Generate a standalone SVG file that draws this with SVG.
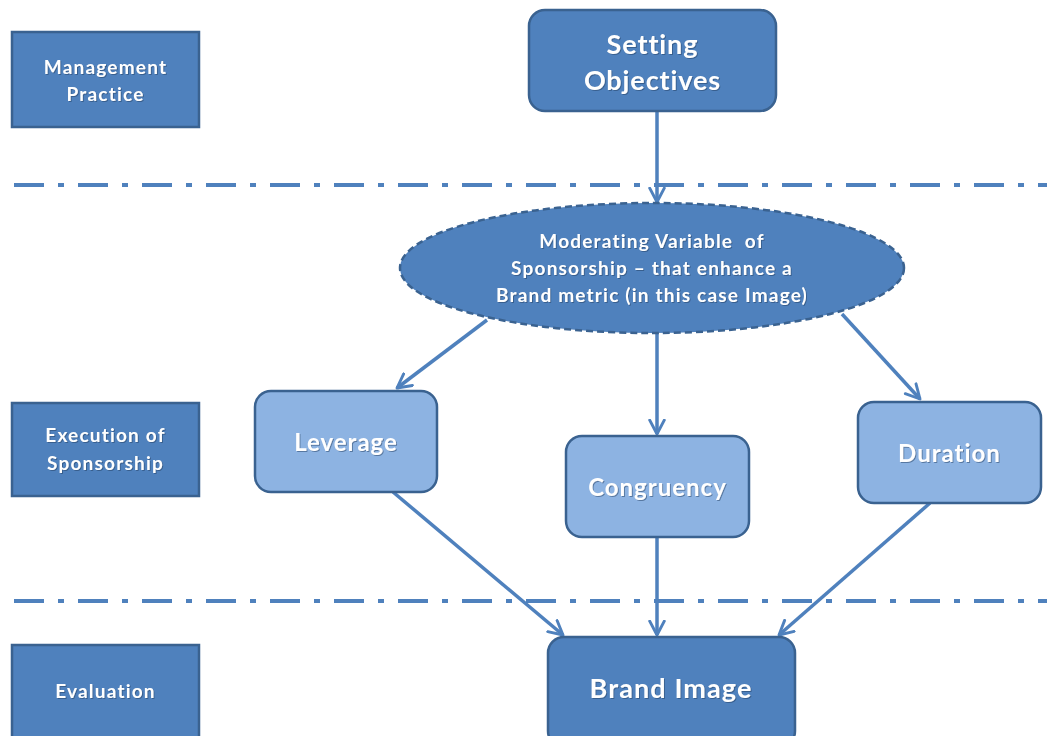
<svg xmlns="http://www.w3.org/2000/svg" width="1047" height="736" viewBox="0 0 1047 736">
<style>
.dark{fill:#4F81BD;stroke:#3A6290;stroke-width:2.5}
.light{fill:#8DB3E2;stroke:#3A6290;stroke-width:2.5}
.t{fill:#ffffff;font-family:Lato,"Open Sans","Liberation Sans",sans-serif;font-weight:bold;text-anchor:middle;filter:url(#sh)}
.sep{stroke:#4F81BD;stroke-width:4;stroke-dasharray:30 14 6 14;fill:none}
.c{stroke:#4F81BD;stroke-width:3.5;fill:none;marker-end:url(#ah)}
</style>
<defs>
<marker id="ah" viewBox="0 0 12 12" refX="10.5" refY="6" markerWidth="5" markerHeight="5" orient="auto" markerUnits="strokeWidth">
<path d="M1,1 L10.5,6 L1,11" fill="none" stroke="#4F81BD" stroke-width="2" stroke-linecap="round" stroke-linejoin="round"/>
</marker>
<filter id="sh" x="-10%" y="-30%" width="120%" height="160%">
<feDropShadow dx="1" dy="1" stdDeviation="0.6" flood-color="#1F3A5F" flood-opacity="0.5"/>
</filter>
</defs>
<rect width="1047" height="736" fill="#ffffff"/>
<g id="separators">
<line class="sep" x1="14" y1="185" x2="1047" y2="185"/>
<line class="sep" x1="14" y1="601" x2="1047" y2="601"/>
</g>
<g id="connectors">
<line class="c" x1="657" y1="111" x2="657" y2="202"/>
<line class="c" x1="487" y1="320" x2="397" y2="388"/>
<line class="c" x1="657" y1="333" x2="657" y2="434"/>
<line class="c" x1="842" y1="314" x2="920" y2="399"/>
<line class="c" x1="393" y1="492" x2="563" y2="635"/>
<line class="c" x1="657" y1="537" x2="657" y2="635"/>
<line class="c" x1="930" y1="503" x2="779" y2="635"/>
</g>
<g id="management-practice">
<rect class="dark" x="12" y="32" width="187" height="95"/>
<text class="t" x="105.5" y="74" font-size="19" letter-spacing="1.2">Management</text>
<text class="t" x="105.5" y="101" font-size="19" letter-spacing="1.2">Practice</text>
</g>
<g id="execution-of-sponsorship">
<rect class="dark" x="12" y="403" width="187" height="93"/>
<text class="t" x="105.5" y="442" font-size="19" letter-spacing="1.2">Execution of</text>
<text class="t" x="105.5" y="470" font-size="19" letter-spacing="1.2">Sponsorship</text>
</g>
<g id="evaluation">
<rect class="dark" x="12" y="645" width="187" height="100"/>
<text class="t" x="105.5" y="698" font-size="19" letter-spacing="1.2">Evaluation</text>
</g>
<g id="setting-objectives">
<rect class="dark" x="529" y="10" width="247" height="101" rx="16"/>
<text class="t" x="652.5" y="54" font-size="27" letter-spacing="0.9">Setting</text>
<text class="t" x="652.5" y="90" font-size="27" letter-spacing="0.9">Objectives</text>
</g>
<g id="moderating-variable">
<ellipse cx="652" cy="268" rx="252" ry="65" fill="#4F81BD" stroke="#3A6290" stroke-width="2.5" stroke-dasharray="7 4"/>
<text class="t" x="652" y="248" font-size="19" letter-spacing="1.2" xml:space="preserve">Moderating Variable  of</text>
<text class="t" x="652" y="275" font-size="19" letter-spacing="1.2">Sponsorship – that enhance a</text>
<text class="t" x="652" y="302" font-size="19" letter-spacing="1.2">Brand metric (in this case Image)</text>
</g>
<g id="leverage">
<rect class="light" x="255" y="391" width="182" height="101" rx="16"/>
<text class="t" x="346" y="451" font-size="24" letter-spacing="1">Leverage</text>
</g>
<g id="congruency">
<rect class="light" x="566" y="436" width="183" height="101" rx="16"/>
<text class="t" x="657.5" y="496" font-size="24" letter-spacing="1">Congruency</text>
</g>
<g id="duration">
<rect class="light" x="858" y="402" width="183" height="101" rx="16"/>
<text class="t" x="949.5" y="462" font-size="24" letter-spacing="1">Duration</text>
</g>
<g id="brand-image">
<rect class="dark" x="548" y="637" width="247" height="110" rx="16"/>
<text class="t" x="671" y="698" font-size="27" letter-spacing="1.1">Brand Image</text>
</g>
</svg>
